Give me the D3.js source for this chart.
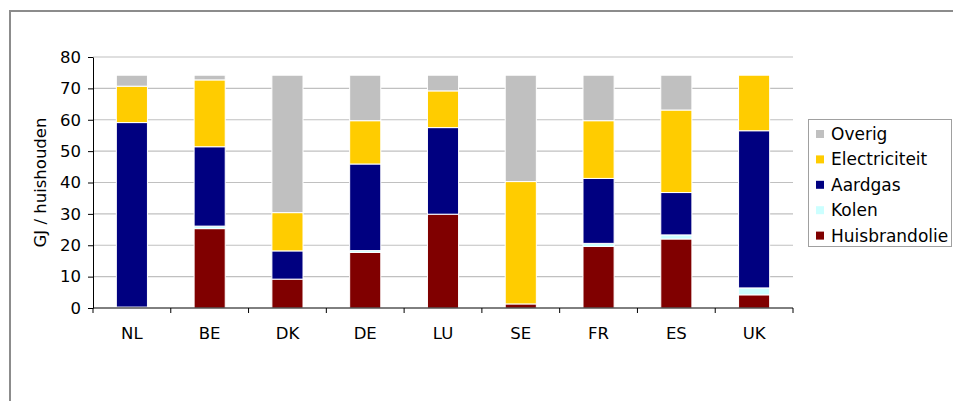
<!DOCTYPE html>
<meta charset="utf-8">
<style>
body { margin: 0; background: #fff; }
svg text { font-family: "DejaVu Sans", Verdana, sans-serif; fill: #000; }
.grid line { stroke: #c0c0c0; stroke-width: 1.2px; }
.axis path, .axis line { stroke: #000; }
</style>
<script src="https://d3js.org/d3.v7.min.js"></script>
<body>
<div id="chart"></div>
<script>
// data (GJ per household)
var landen = ["NL", "BE", "DK", "DE", "LU", "SE", "FR", "ES", "UK"];
var huisbrandolie = [0.3, 25.3, 9.2, 17.7, 29.9, 1.3, 19.6, 22.0, 4.2];
var kolen         = [0.0, 0.8, 0.0, 0.6, 0.0, 0.0, 1.0, 1.3, 2.2];
var aardgas       = [58.8, 25.3, 9.0, 27.6, 27.6, 0.0, 20.7, 13.5, 50.1];
var electriciteit = [11.6, 21.3, 12.2, 13.8, 11.7, 39.0, 18.4, 26.3, 17.7];
var overig        = [3.5, 1.5, 43.8, 14.5, 5.0, 33.9, 14.5, 11.1, 0.0];
var yTicks = [0, 10, 20, 30, 40, 50, 60, 70, 80];

var reeksen = [
  { naam: "Huisbrandolie", kleur: "#800000", waarden: huisbrandolie },
  { naam: "Kolen",         kleur: "#ccffff", waarden: kolen },
  { naam: "Aardgas",       kleur: "#000080", waarden: aardgas },
  { naam: "Electriciteit", kleur: "#ffcc00", waarden: electriciteit },
  { naam: "Overig",        kleur: "#c0c0c0", waarden: overig }
];

var W = 953, H = 401;
var pLeft = 93, pRight = 793, pTop = 57, pBottom = 308;

var svg = d3.select("#chart").append("svg")
    .attr("width", W).attr("height", H);

// outer frame (only top and left edge are visible)
svg.append("rect")
    .attr("x", 10).attr("y", 11)
    .attr("width", 960).attr("height", 400)
    .attr("fill", "none").attr("stroke", "#8c8c8c").attr("stroke-width", 2);

var rows = landen.map(function(l, i) {
  var r = { land: l };
  reeksen.forEach(function(s) { r[s.naam] = s.waarden[i]; });
  return r;
});

var stack = d3.stack().keys(reeksen.map(function(s) { return s.naam; }));
var lagen = stack(rows);

var x = d3.scaleBand().domain(landen).range([pLeft, pRight])
    .paddingInner(0.6).paddingOuter(0.3);
var y = d3.scaleLinear().domain([0, 80]).range([pBottom, pTop]);

// gridlines
svg.append("g").attr("class", "grid")
  .selectAll("line").data(yTicks.slice(1)).enter().append("line")
    .attr("x1", pLeft).attr("x2", pRight)
    .attr("y1", function(d) { return y(d); })
    .attr("y2", function(d) { return y(d); });

// bars
svg.append("g").selectAll("g").data(lagen).enter().append("g")
    .attr("fill", function(d, i) { return reeksen[i].kleur; })
  .selectAll("rect").data(function(d) { return d.filter(function(p) { return p[1] - p[0] > 0; }); })
  .enter().append("rect")
    .attr("x", function(d) { return x(d.data.land); })
    .attr("width", x.bandwidth())
    .attr("y", function(d) { return y(d[1]); })
    .attr("height", function(d) { return y(d[0]) - y(d[1]); })
    .attr("stroke", "#fff").attr("stroke-width", 1);

// y axis
var yAxis = svg.append("g").attr("class", "axis")
    .attr("transform", "translate(" + pLeft + ",0)")
    .call(d3.axisLeft(y).tickValues(yTicks).tickSize(5).tickSizeOuter(0).tickPadding(7));
yAxis.selectAll("text").style("font-size", "16.5px");

// x axis with ticks between categories
var step = x.step();
var xAxis = svg.append("g").attr("class", "axis")
    .attr("transform", "translate(0," + pBottom + ")");
xAxis.append("line").attr("x1", pLeft).attr("x2", pRight);
xAxis.selectAll(".tk").data(d3.range(landen.length + 1)).enter().append("line")
    .attr("class", "tk")
    .attr("x1", function(i) { return pLeft + i * step; })
    .attr("x2", function(i) { return pLeft + i * step; })
    .attr("y1", 0).attr("y2", 5);
xAxis.selectAll(".lb").data(landen).enter().append("text")
    .attr("class", "lb")
    .attr("x", function(d) { return x(d) + x.bandwidth() / 2; })
    .attr("y", 31)
    .attr("text-anchor", "middle")
    .style("font-size", "16.5px")
    .text(function(d) { return d; });

// axis title
svg.append("text")
    .attr("transform", "translate(46," + ((pTop + pBottom) / 2) + ") rotate(-90)")
    .attr("text-anchor", "middle")
    .style("font-size", "16.5px")
    .text("GJ / huishouden");

// legend (reversed order, Overig on top)
var legend = svg.append("g");
legend.append("rect")
    .attr("x", 808.5).attr("y", 119.5)
    .attr("width", 143).attr("height", 127)
    .attr("fill", "#fff").attr("stroke", "#a0a0a0");
var items = legend.selectAll(".item").data(reeksen.slice().reverse()).enter().append("g")
    .attr("class", "item")
    .attr("transform", function(d, i) { return "translate(816," + (134 + i * 25.4) + ")"; });
items.append("rect")
    .attr("x", 0).attr("y", -4).attr("width", 8).attr("height", 8)
    .attr("fill", function(d) { return d.kleur; });
items.append("text")
    .attr("x", 15).attr("y", 6)
    .style("font-size", "17px")
    .text(function(d) { return d.naam; });
</script>
</body>
